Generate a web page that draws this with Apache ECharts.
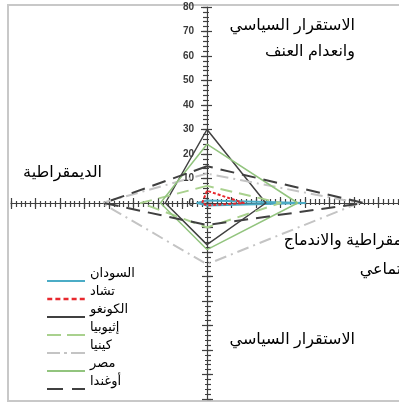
<!DOCTYPE html>
<html>
<head>
<meta charset="utf-8">
<script src="https://cdn.jsdelivr.net/npm/echarts@6/dist/echarts.min.js"></script>
<style>
  html, body { margin: 0; padding: 0; background: #fff; }
  #chart { width: 399px; height: 404px; }
</style>
</head>
<body>
<div id="chart"></div>
<script>
// Axis titles (clockwise from the top)
const axisTop = 'الاستقرار السياسي وانعدام العنف';
const axisRight = 'الديمقراطية والاندماج الاجتماعي';
const axisBottom = 'الاستقرار السياسي';
const axisLeft = 'الديمقراطية';
const axisMax = 80;

const countries = ['السودان', 'تشاد', 'الكونغو', 'إثيوبيا', 'كينيا', 'مصر', 'أوغندا'];

// Scores per country: [top, right, bottom, left]
const sudan    = [1, 40, 1, 4];
const chad     = [5, 15, 1, 2];
const congo    = [30, 24, 17, 17];
const ethiopia = [7, 30, 10, 27];
const kenya    = [12, 62, 25, 43];
const egypt    = [24, 37, 19, 19];
const uganda   = [15, 64, 9, 42];

const scores = [sudan, chad, congo, ethiopia, kenya, egypt, uganda];

const FONT = '"Liberation Sans", "DejaVu Sans", sans-serif';

const lineStyles = [
  { color: '#4BACC6', width: 2, type: 'solid' },
  { color: '#E8282E', width: 2, type: [3, 2] },
  { color: '#404040', width: 1.5, type: 'solid' },
  { color: '#A9D18E', width: 2, type: [12, 7] },
  { color: '#C4C4C4', width: 2, type: [12, 5, 2, 5] },
  { color: '#92C47E', width: 1.5, type: 'solid' },
  { color: '#404040', width: 2, type: [14, 8] }
];

// legend swatches drawn as bar paths so the dash patterns show
function bars(segs) {
  return 'path://' + segs.map(s => `M${s[0]},0h${s[1]}v2h-${s[1]}z`).join(' ');
}
const dotted = [];
for (let x = 2; x + 4 <= 38; x += 6.5) dotted.push([x, 4]);
const icons = [
  bars([[0, 38]]),
  bars(dotted),
  bars([[0, 38]]),
  bars([[0, 14], [20, 18]]),
  bars([[0, 13], [17, 3], [24, 14]]),
  bars([[0, 38]]),
  bars([[0, 16], [25, 13]])
];

// ECharts lays indicators out counter-clockwise from the top
function toRadarOrder(v) { return [v[0], v[3], v[2], v[1]]; }
const indicatorNames = [axisTop, axisLeft, axisBottom, axisRight];

const center = [207, 203];
const radius = 196;

function makeRadar(split, tickLen, showLine, labelTop) {
  return {
    center: center,
    radius: radius,
    startAngle: 90,
    splitNumber: split,
    shape: 'polygon',
    axisName: { show: false },
    indicator: indicatorNames.map((n, i) => {
      const ind = { name: n, min: 0, max: axisMax };
      if (labelTop && i === 0) {
        ind.axisLabel = {
          show: true, color: '#3a3a3a', fontSize: 10, fontWeight: 'bold',
          fontFamily: FONT, margin: 13
        };
      }
      return ind;
    }),
    axisLine: { show: showLine, lineStyle: { color: '#404040', width: 1.2 } },
    axisTick: { show: true, length: tickLen, lineStyle: { color: '#404040', width: 1.2 } },
    axisLabel: { show: false },
    splitLine: { show: false },
    splitArea: { show: false }
  };
}

const chart = echarts.init(document.getElementById('chart'), null, { renderer: 'canvas' });

chart.setOption({
  animation: false,
  backgroundColor: '#fff',
  radar: [
    makeRadar(40, 4, true, false),
    makeRadar(40, -2, false, false),
    makeRadar(8, 6, false, true),
    makeRadar(8, -5, false, false)
  ],
  legend: {
    orient: 'vertical',
    left: 47,
    top: 265,
    height: 180,
    padding: 0,
    itemWidth: 38,
    itemHeight: 2.5,
    itemGap: -14,
    selectedMode: false,
    // an empty second line lifts each name above its swatch
    formatter: n => n + '\n ',
    textStyle: { fontSize: 13, lineHeight: 16, color: '#000', fontFamily: FONT },
    data: countries.map((n, i) => ({ name: n, icon: icons[i], itemStyle: { color: lineStyles[i].color } }))
  },
  graphic: [
    {
      type: 'rect', z: -1, silent: true,
      shape: { x: 8, y: 5, width: 440, height: 396 },
      style: { fill: 'none', stroke: '#C8C8C8', lineWidth: 2 }
    },
    {
      type: 'text', x: 355, y: 13,
      style: { text: 'الاستقرار السياسي\nوانعدام العنف', align: 'right', verticalAlign: 'top',
               font: '16px ' + FONT, lineHeight: 26, fill: '#000' }
    },
    {
      type: 'text', x: 102, y: 173,
      style: { text: axisLeft, align: 'right', verticalAlign: 'middle',
               font: '16px ' + FONT, fill: '#000' }
    },
    {
      type: 'text', x: 425, y: 226,
      style: { text: 'الديمقراطية والاندماج\nالاجتماعي', align: 'right', verticalAlign: 'top',
               font: '16px ' + FONT, lineHeight: 29, fill: '#000' }
    },
    {
      type: 'text', x: 355, y: 340,
      style: { text: axisBottom, align: 'right', verticalAlign: 'middle',
               font: '16px ' + FONT, fill: '#000' }
    }
  ],
  series: countries.map((n, i) => ({
    type: 'radar',
    name: n,
    radarIndex: 0,
    symbol: 'none',
    silent: true,
    lineStyle: lineStyles[i],
    itemStyle: { color: lineStyles[i].color },
    areaStyle: null,
    data: [{ name: n, value: toRadarOrder(scores[i]) }]
  }))
});
</script>
</body>
</html>
